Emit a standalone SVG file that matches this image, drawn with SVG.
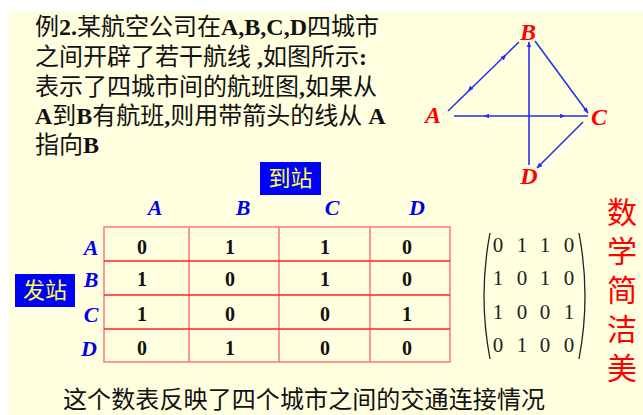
<svg xmlns="http://www.w3.org/2000/svg" width="643" height="415" viewBox="0 0 643 415">
<defs>
<style>
.t{font-family:"Liberation Serif","Noto Sans CJK SC",serif;font-size:24px;fill:#111}
.b{font-weight:bold}
.lbl{font-family:"Liberation Serif",serif;font-style:italic;font-weight:bold;fill:#FF0000;font-size:24px;text-anchor:middle}
.hd{font-family:"Liberation Serif",serif;font-style:italic;font-weight:bold;fill:#0000EE;font-size:22px;text-anchor:middle}
.v{font-family:"Liberation Serif",serif;font-weight:bold;fill:#111;font-size:20px;text-anchor:middle}
.m{font-family:"Liberation Serif",serif;fill:#222;font-size:21px;text-anchor:middle}
.box{fill:#0000FF}
.bt{font-family:"Noto Sans CJK SC",sans-serif;font-size:22px;fill:#FFFF44;text-anchor:middle}
.ed{stroke:#2233EE;stroke-width:1.6;fill:none}
.ar{stroke:none;fill:none}
.red{font-family:"Noto Sans CJK SC",serif;font-size:30px;fill:#FF0000;writing-mode:vertical-rl;letter-spacing:9px}
</style>
<marker id="ah" viewBox="0 0 10 10" refX="9" refY="5" markerWidth="6" markerHeight="6" markerUnits="userSpaceOnUse" orient="auto">
<path d="M0,1 L10,5 L0,9 Z" fill="#2233EE"/>
</marker>
</defs>
<rect x="0" y="0" width="643" height="415" fill="#FFFFFF"/>
<rect x="9" y="11" width="634" height="404" fill="#FFFFE0"/>

<g id="problem-text">
<text class="t" x="35" y="35">例<tspan class="b">2.</tspan>某航空公司在<tspan class="b">A,B,C,D</tspan>四城市</text>
<text class="t" x="35" y="65">之间开辟了若干航线 <tspan class="b">,</tspan>如图所示<tspan class="b">:</tspan></text>
<text class="t" x="35" y="95">表示了四城市间的航班图<tspan class="b">,</tspan>如果从</text>
<text class="t" x="35" y="124"><tspan class="b">A</tspan>到<tspan class="b">B</tspan>有航班<tspan class="b">,</tspan>则用带箭头的线从 <tspan class="b">A</tspan></text>
<text class="t" x="35" y="153">指向<tspan class="b">B</tspan></text>
</g>

<g id="connectors">
<line class="ed" x1="448" y1="111" x2="519" y2="42"/>
<path class="ar" d="M480,80 L506,55" marker-end="url(#ah)"/>
<path class="ar" d="M494,66 L468,91" marker-end="url(#ah)"/>
<line class="ed" x1="529" y1="165" x2="529" y2="42" marker-end="url(#ah)"/>
<line class="ed" x1="535" y1="41" x2="588" y2="113" marker-end="url(#ah)"/>
<line class="ed" x1="454" y1="116" x2="588" y2="116"/>
<path class="ar" d="M500,116 L484,116" marker-end="url(#ah)"/>
<path class="ar" d="M540,116 L565,116" marker-end="url(#ah)"/>
<line class="ed" x1="583" y1="122" x2="537" y2="168" marker-end="url(#ah)"/>
</g>
<g id="node-A"><text class="lbl" x="433" y="123">A</text></g>
<g id="node-B"><text class="lbl" x="528" y="40">B</text></g>
<g id="node-C"><text class="lbl" x="599" y="125">C</text></g>
<g id="node-D"><text class="lbl" x="529" y="184">D</text></g>

<g id="label-daozhan">
<rect class="box" x="260" y="162" width="61" height="33"/>
<text class="bt" x="290.5" y="186">到站</text>
</g>
<g id="label-fazhan">
<rect class="box" x="15" y="274" width="60" height="33"/>
<text class="bt" x="45" y="298">发站</text>
</g>

<g id="col-headers">
<text class="hd" x="155" y="215">A</text>
<text class="hd" x="243" y="215">B</text>
<text class="hd" x="332" y="215">C</text>
<text class="hd" x="417" y="215">D</text>
</g>
<g id="row-headers">
<text class="hd" x="91" y="255">A</text>
<text class="hd" x="91" y="287">B</text>
<text class="hd" x="91" y="322">C</text>
<text class="hd" x="89" y="356">D</text>
</g>

<g id="table">
<rect x="104" y="227" width="346" height="135" fill="none" stroke="#FF8080" stroke-width="1.6"/>
<g stroke="#FF7070" stroke-width="1.5">
<line x1="189" y1="227" x2="189" y2="362"/>
<line x1="279" y1="227" x2="279" y2="362"/>
<line x1="370" y1="227" x2="370" y2="362"/>
</g>
<g stroke="#FF2020" stroke-width="1.3">
<line x1="104" y1="261" x2="450" y2="261"/>
<line x1="104" y1="295" x2="450" y2="295"/>
<line x1="104" y1="329" x2="450" y2="329"/>
</g>
<text class="v" x="142" y="254">0</text><text class="v" x="230" y="254">1</text><text class="v" x="325" y="254">1</text><text class="v" x="407" y="254">0</text>
<text class="v" x="142" y="286">1</text><text class="v" x="230" y="286">0</text><text class="v" x="325" y="286">1</text><text class="v" x="407" y="286">0</text>
<text class="v" x="142" y="321">1</text><text class="v" x="230" y="321">0</text><text class="v" x="325" y="321">0</text><text class="v" x="407" y="321">1</text>
<text class="v" x="142" y="355">0</text><text class="v" x="230" y="355">1</text><text class="v" x="325" y="355">0</text><text class="v" x="407" y="355">0</text>
</g>

<g id="matrix">
<path d="M490,233 Q478,296 490,359" fill="none" stroke="#222" stroke-width="1.3"/>
<path d="M579,233 Q591,296 579,359" fill="none" stroke="#222" stroke-width="1.3"/>
<text class="m" x="498" y="252">0</text><text class="m" x="522" y="252">1</text><text class="m" x="545" y="252">1</text><text class="m" x="569" y="252">0</text>
<text class="m" x="498" y="285">1</text><text class="m" x="522" y="285">0</text><text class="m" x="545" y="285">1</text><text class="m" x="569" y="285">0</text>
<text class="m" x="498" y="319">1</text><text class="m" x="522" y="319">0</text><text class="m" x="545" y="319">0</text><text class="m" x="569" y="319">1</text>
<text class="m" x="498" y="352">0</text><text class="m" x="522" y="352">1</text><text class="m" x="545" y="352">0</text><text class="m" x="569" y="352">0</text>
</g>

<g id="slogan">
<text class="red" x="622" y="197">数学简洁美</text>
</g>

<g id="caption">
<text class="t" x="63" y="408" textLength="482" lengthAdjust="spacing">这个数表反映了四个城市之间的交通连接情况</text>
</g>
</svg>
